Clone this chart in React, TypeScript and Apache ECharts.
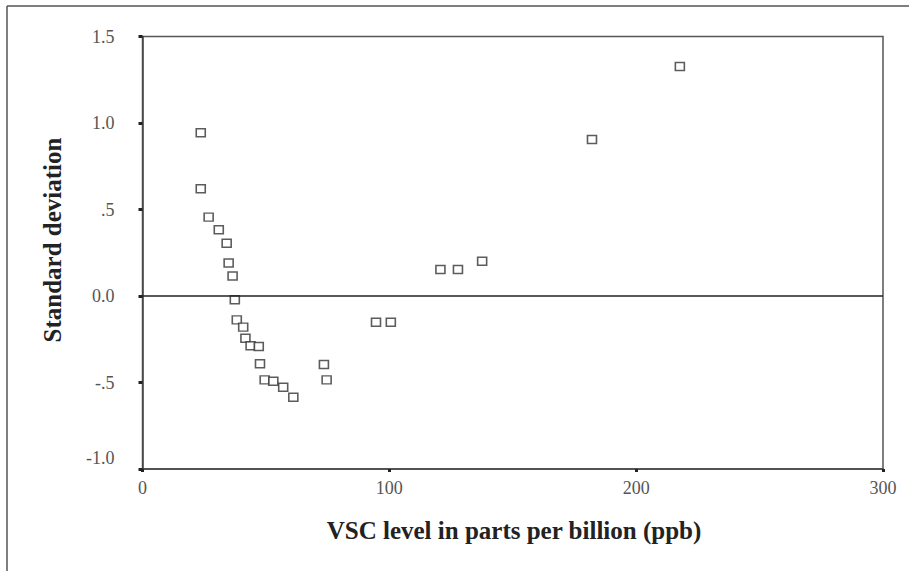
import React, { useEffect, useRef } from "react";
import * as echarts from "echarts";

const vscLevels = [23.6, 23.6, 26.8, 30.9, 34.1, 34.9, 36.5, 37.4, 38.2, 40.8, 41.7, 43.8, 47.1, 47.6, 49.5, 53.0, 57.0, 61.1, 73.5, 74.6, 94.6, 100.6, 120.7, 127.8, 137.6, 182.1, 217.7];
const stdDevs = [0.944, 0.62, 0.456, 0.383, 0.305, 0.191, 0.116, -0.022, -0.138, -0.18, -0.244, -0.288, -0.292, -0.392, -0.485, -0.493, -0.527, -0.585, -0.396, -0.485, -0.152, -0.152, 0.153, 0.153, 0.201, 0.905, 1.327];
const yTickValues = [-1, -0.5, 0, 0.5, 1, 1.5];
const yTickLabels = ["-1.0", "-.5", "0.0", ".5", "1.0", "1.5"];
const xTitle = "VSC level in parts per billion (ppb)";
const yTitle = "Standard deviation";

const FONT = "'Liberation Serif', 'DejaVu Serif', serif";

export default function App() {
  const ref = useRef<HTMLDivElement>(null);
  useEffect(() => {
    document.body.style.margin = "0";
    if (!ref.current) return;
    const chart = echarts.init(ref.current, undefined, { renderer: "svg" });
    const points = vscLevels.map((x, i) => [x, stdDevs[i]]);
    chart.setOption({
      animation: false,
      backgroundColor: "#ffffff",
      grid: {
        left: 142.5,
        top: 36.5,
        right: 26,
        bottom: 102,
        show: true,
        borderColor: "#555",
        borderWidth: 1.5,
        backgroundColor: "transparent",
      },
      xAxis: {
        type: "value",
        min: 0,
        max: 300,
        interval: 100,
        axisLine: { show: true, onZero: false, lineStyle: { color: "#444", width: 1.5 } },
        axisTick: { show: true, length: 3, lineStyle: { color: "#222", width: 3 } },
        splitLine: { show: false },
        axisLabel: { color: "#555", fontFamily: FONT, fontSize: 18, margin: 10 },
      },
      yAxis: {
        type: "value",
        min: -1,
        max: 1.5,
        interval: 0.5,
        axisLine: { show: true, onZero: false, lineStyle: { color: "#444", width: 1.5 } },
        axisTick: { show: true, length: 4, lineStyle: { color: "#222", width: 3 } },
        splitLine: { show: false },
        axisLabel: {
          color: "#555",
          fontFamily: FONT,
          fontSize: 18,
          margin: 28,
          formatter: (v: number) => {
            const idx = yTickValues.findIndex((t) => Math.abs(t - v) < 1e-9);
            const s = idx >= 0 ? yTickLabels[idx] : String(v);
            return v === -1 ? "{low|" + s + "}" : s;
          },
          rich: {
            low: { color: "#555", fontFamily: FONT, fontSize: 18, padding: [0, 0, 22, 0] },
          },
        },
      },
      graphic: [
        { type: "line", shape: { x1: 7, y1: 6, x2: 909, y2: 6 }, style: { stroke: "#555", lineWidth: 1.5 } },
        { type: "line", shape: { x1: 7, y1: 6, x2: 7, y2: 571 }, style: { stroke: "#555", lineWidth: 1.5 } },
        {
          type: "text",
          x: 514,
          y: 530,
          style: {
            text: xTitle,
            fontFamily: FONT,
            fontWeight: "bold",
            fontSize: 25,
            fill: "#222",
            textAlign: "center",
            textVerticalAlign: "middle",
          },
        },
        {
          type: "text",
          x: 52,
          y: 240,
          rotation: Math.PI / 2,
          style: {
            text: yTitle,
            fontFamily: FONT,
            fontWeight: "bold",
            fontSize: 25,
            fill: "#222",
            textAlign: "center",
            textVerticalAlign: "middle",
          },
        },
      ],
      series: [
        {
          type: "scatter",
          data: points,
          symbol: "rect",
          symbolSize: [9, 8],
          itemStyle: { color: "#fff", borderColor: "#333", borderWidth: 1.5 },
          markLine: {
            silent: true,
            symbol: "none",
            label: { show: false },
            lineStyle: { color: "#222", width: 1.5, type: "solid" },
            data: [{ yAxis: 0 }],
          },
        },
      ],
    });
    return () => chart.dispose();
  }, []);
  return <div ref={ref} style={{ width: 909, height: 571 }} />;
}
